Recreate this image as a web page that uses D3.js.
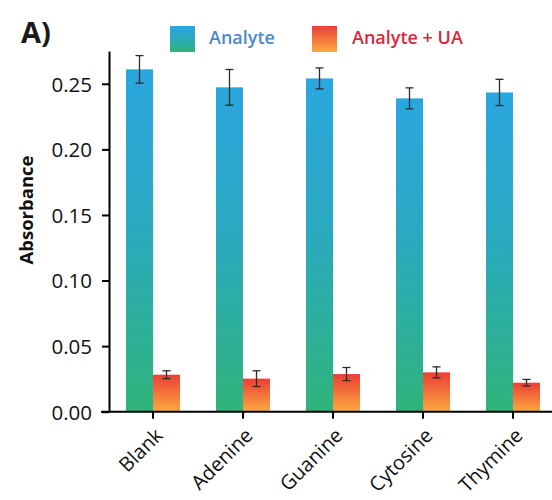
<!DOCTYPE html>
<html>
<head>
<meta charset="utf-8">
<script src="https://cdn.jsdelivr.net/npm/d3@7"></script>
<style>
  body { margin: 0; background: #fff; }
  svg { display: block; font-family: 'Open Sans', sans-serif; }
</style>
</head>
<body>
<div id="chart"></div>
<script>
const categories = ['Blank', 'Adenine', 'Guanine', 'Cytosine', 'Thymine']
const analyte = [0.261, 0.2473, 0.2541, 0.2389, 0.2434]
const analyteErr = [0.0105, 0.0136, 0.008, 0.008, 0.010]
const analyteUA = [0.0282, 0.0252, 0.0287, 0.030, 0.0221]
const analyteUAErr = [0.003, 0.006, 0.005, 0.0042, 0.0025]
const yTicks = [0, 0.05, 0.1, 0.15, 0.2, 0.25]

const w = 552
const h = 500
const x0 = 109
const baseY = 411.7
const topY = 51

const svg = d3.select('#chart').append('svg').attr('width', w).attr('height', h)

const defs = svg.append('defs')
const gBlue = defs.append('linearGradient').attr('id', 'gBlue')
  .attr('x1', 0).attr('y1', 0).attr('x2', 0).attr('y2', 1)
gBlue.append('stop').attr('offset', '0%').attr('stop-color', '#2aa7df')
gBlue.append('stop').attr('offset', '45%').attr('stop-color', '#2aa9c0')
gBlue.append('stop').attr('offset', '100%').attr('stop-color', '#2fb47a')
const gOrange = defs.append('linearGradient').attr('id', 'gOrange')
  .attr('x1', 0).attr('y1', 0).attr('x2', 0).attr('y2', 1)
gOrange.append('stop').attr('offset', '0%').attr('stop-color', '#ec3e36')
gOrange.append('stop').attr('offset', '100%').attr('stop-color', '#fbaa40')

const x = d3.scaleBand().domain(categories).range([108, 558]).padding(0)
const y = d3.scaleLinear().domain([0, 0.275]).range([baseY, topY])
const barW = 27

const data = categories.map((c, i) => ({
  c, a: analyte[i], ae: analyteErr[i], u: analyteUA[i], ue: analyteUAErr[i]
}))

const groups = svg.selectAll('g.grp').data(data).join('g').attr('class', 'grp')
  .attr('transform', (d) => 'translate(' + (x(d.c) + x.bandwidth() / 2) + ',0)')

groups.append('rect')
  .attr('x', -barW).attr('width', barW)
  .attr('y', (d) => y(d.a)).attr('height', (d) => baseY - y(d.a))
  .attr('fill', 'url(#gBlue)')
groups.append('rect')
  .attr('x', 0).attr('width', barW)
  .attr('y', (d) => y(d.u)).attr('height', (d) => baseY - y(d.u))
  .attr('fill', 'url(#gOrange)')

// error bars
function errBar(sel, cx, v, e) {
  const g = sel.append('g').attr('stroke', '#2b2b2b').attr('stroke-width', 1.3)
  g.append('line').attr('x1', cx).attr('x2', cx)
    .attr('y1', (d) => y(d[v] + d[e])).attr('y2', (d) => y(d[v] - d[e]))
  g.append('line').attr('x1', cx - 4).attr('x2', cx + 4)
    .attr('y1', (d) => y(d[v] + d[e])).attr('y2', (d) => y(d[v] + d[e]))
  g.append('line').attr('x1', cx - 4).attr('x2', cx + 4)
    .attr('y1', (d) => y(d[v] - d[e])).attr('y2', (d) => y(d[v] - d[e]))
}
errBar(groups, -barW / 2, 'a', 'ae')
errBar(groups, barW / 2, 'u', 'ue')

// y axis
const yAxis = d3.axisLeft(y).tickValues(yTicks).tickFormat(d3.format('.2f'))
  .tickSize(7).tickSizeOuter(0).tickPadding(10)
const ya = svg.append('g').attr('transform', 'translate(' + x0 + ',0)').call(yAxis)
ya.select('.domain').attr('stroke-width', 2)
ya.selectAll('.tick line').attr('stroke-width', 2)
ya.selectAll('.tick text').attr('font-size', 20.5).attr('fill', '#111')
  .attr('font-family', 'Open Sans').attr('dy', '0.36em')

// x axis
const xAxis = d3.axisBottom(x).tickSize(7).tickSizeOuter(0)
const xa = svg.append('g').attr('transform', 'translate(0,' + baseY + ')').call(xAxis)
xa.select('.domain').attr('d', 'M' + (x0 - 8) + ',0H560').attr('stroke-width', 2)
xa.selectAll('.tick line').attr('stroke-width', 2)
xa.selectAll('.tick text')
  .attr('font-size', 20).attr('fill', '#111').attr('font-family', 'Open Sans')
  .attr('text-anchor', 'end').attr('dy', null).attr('y', null)
  .attr('transform', 'translate(11,25) rotate(-45)')

// y label
svg.append('text').text('Absorbance')
  .attr('transform', 'translate(33,210) rotate(-90)')
  .attr('text-anchor', 'middle').attr('font-size', 18.5).attr('font-weight', 'bold')
  .attr('fill', '#111')

// panel label
svg.append('text').text('A)').attr('x', 21).attr('y', 43)
  .attr('font-size', 29).attr('font-weight', 'bold').attr('fill', '#1a1a1a')

// legend
const legend = svg.append('g').attr('id', 'legend')
legend.append('rect').attr('x', 170).attr('y', 26).attr('width', 25).attr('height', 26)
  .attr('fill', 'url(#gBlue)')
legend.append('text').text('Analyte').attr('x', 209).attr('y', 44)
  .attr('font-size', 18).attr('font-weight', 600).attr('fill', '#4a8ac8')
legend.append('rect').attr('x', 312).attr('y', 26).attr('width', 25).attr('height', 26)
  .attr('fill', 'url(#gOrange)')
legend.append('text').text('Analyte + UA').attr('x', 352).attr('y', 44)
  .attr('font-size', 18).attr('font-weight', 600).attr('fill', '#d9283d')
</script>
</body>
</html>
